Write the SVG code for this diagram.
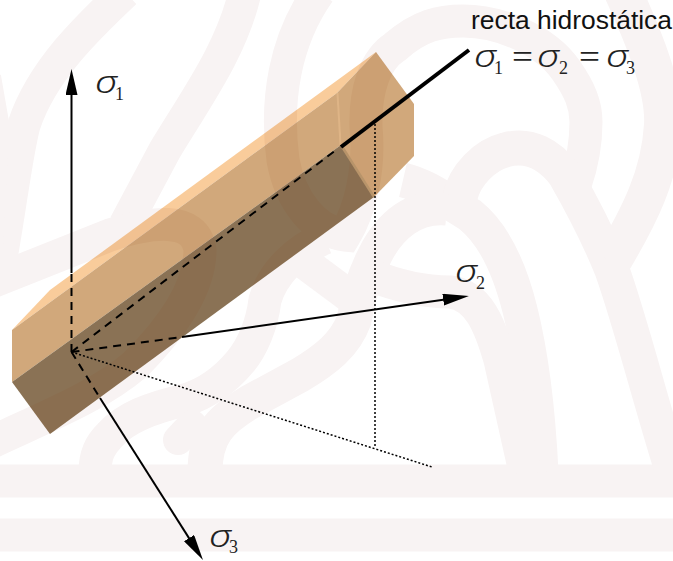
<svg xmlns="http://www.w3.org/2000/svg" width="673" height="561" viewBox="0 0 673 561">
<style>
.wm{fill:none;stroke-width:33}
.ax{fill:none;stroke:#000;stroke-width:2}
.dash{fill:none;stroke:#000;stroke-width:2;stroke-dasharray:8 6}
.dot{fill:none;stroke:#000;stroke-width:1.5;stroke-dasharray:2 2}
.s{font-family:"Noto Sans","Liberation Serif",serif;font-style:italic;font-weight:300;font-size:32px;fill:#222}
.n{font-family:"Liberation Serif",serif;font-size:18px;fill:#222}
.e{font-family:"Liberation Serif",serif;font-size:34px;fill:#222}
</style>
<defs>
<marker id="ah" markerUnits="userSpaceOnUse" markerWidth="28" markerHeight="12" refX="16" refY="6" orient="auto"><path d="M0,0 L26,6 L0,12 Z" fill="#000"/></marker>
<clipPath id="pc"><path d="M50,290 L376,52 L414,104 L414,156 L374,197 L50,434 L12,382 L12,330 Z"/></clipPath>
<g id="wmshapes">
<path class="wm" d="M-10,481 H683"/>
<path class="wm" d="M-10,535 H683"/>
<path class="wm" d="M125,-8 C90,25 42,70 24,125 C16,155 10,210 -2,275"/>
<path class="wm" style="stroke-width:16" d="M-7,76 L1,122 L-6,280"/>
<path class="wm" d="M245,-8 C232,50 195,100 165,150 L125,225"/>
<path class="wm" d="M-8,282 L110,235 C150,222 195,215 200,250 C200,290 170,330 135,365 C100,395 50,415 -8,442"/>
<path class="wm" d="M319,-8 C285,40 275,100 283,160 C290,200 315,232 345,235 C360,210 370,170 366,127 C365,90 375,60 395,47 C420,25 440,21 463,21 C500,21 545,40 566,70 C580,90 586,105 586,122 C586,145 582,165 575,185"/>
<path class="wm" d="M95,472 C95,455 100,445 110,435 C125,418 150,408 185,400 C205,394 225,380 240,362 C252,348 262,325 265,300 C272,275 295,250 325,238"/>
<path class="wm" d="M290,252 L352,298"/>
<path class="wm" style="stroke-linecap:round;stroke-width:30" d="M192,425 L178,440"/>
<path class="wm" style="stroke-width:35" d="M403,180 C425,185 445,200 470,215 C495,235 510,270 520,310 C530,350 538,410 541,472"/>
<path class="wm" style="stroke-width:35" d="M447,208 C415,205 390,225 375,255 C362,280 358,300 354,320 C345,345 325,360 300,375 L250,402 C220,420 205,435 205,472"/>
<path class="wm" style="stroke-width:33" d="M370,275 C395,285 425,292 450,292 C478,295 490,325 500,360 L525,472"/>
<path class="wm" style="stroke-width:35" d="M460,197 C465,175 485,155 505,150 C530,143 550,155 565,175 C585,210 600,240 612,270 C630,320 650,400 672,470"/>
<path class="wm" style="stroke-width:38" d="M623,-8 C645,40 665,90 663,125 C660,175 640,215 612,262"/>
</g>
</defs>
<use id="watermark" href="#wmshapes" stroke="#f8f3f3"/>
<g id="prism">
<path id="prism-ridge" d="M50,290 L376,52 L337,93 L12,330 Z" fill="#f9cc9b"/>
<path id="prism-top" d="M12,330 L337,93 L341,145 L12,382 Z" fill="#d1a87b"/>
<path id="prism-end" d="M376,52 L414,104 L414,156 L374,197 L341,145 L337,93 Z" fill="#d1a87b"/>
<path id="prism-side" d="M12,382 L341,145 L374,197 L50,434 Z" fill="#8a7355"/>
</g>
<use id="watermark-through" href="#wmshapes" stroke="#8a3a10" opacity="0.07" clip-path="url(#pc)"/>
<path d="M337.500,93 L340.500,145" stroke="#deb486" stroke-width="2" fill="none"/>
<path d="M341,145 L374,197" stroke="#b8946a" stroke-width="2.500" fill="none"/>
<g id="connectors">
<path class="ax" d="M71.500,273 V79" marker-end="url(#ah)"/>
<path class="dash" d="M71.500,352 V273"/>
<path class="ax" d="M182,337 L459,297.400" marker-end="url(#ah)"/>
<path class="dash" d="M71.500,352 L182,337"/>
<path class="ax" d="M100,398 L197.600,551.600" marker-end="url(#ah)"/>
<path class="dash" d="M71.500,352 L100,398"/>
<path class="dash" d="M71.500,352 L336,150"/>
<path d="M341,147 L469,50" fill="none" stroke="#000" stroke-width="4"/>
<path class="dot" d="M71.500,352 L432,467"/>
<path class="dot" d="M375,124 V448"/>
</g>
<g id="labels">
<text x="471" y="28.500" font-family="'Liberation Sans',Arial,sans-serif" font-size="26" fill="#111" textLength="201" lengthAdjust="spacingAndGlyphs">recta hidrostática</text>
<text class="s" x="474" y="67" textLength="22" lengthAdjust="spacingAndGlyphs">σ</text><text class="n" x="494" y="74">1</text>
<text class="e" x="512" y="68" textLength="21" lengthAdjust="spacingAndGlyphs">=</text>
<text class="s" x="537" y="67" textLength="22" lengthAdjust="spacingAndGlyphs">σ</text><text class="n" x="559" y="74">2</text>
<text class="e" x="579" y="68" textLength="21" lengthAdjust="spacingAndGlyphs">=</text>
<text class="s" x="606" y="67" textLength="22" lengthAdjust="spacingAndGlyphs">σ</text><text class="n" x="626" y="74">3</text>
<text class="s" x="95" y="93" textLength="22" lengthAdjust="spacingAndGlyphs">σ</text><text class="n" x="115" y="100">1</text>
<text class="s" x="455" y="282" textLength="22" lengthAdjust="spacingAndGlyphs">σ</text><text class="n" x="476" y="289">2</text>
<text class="s" x="209" y="547" textLength="22" lengthAdjust="spacingAndGlyphs">σ</text><text class="n" x="229" y="553">3</text>
</g>
</svg>
